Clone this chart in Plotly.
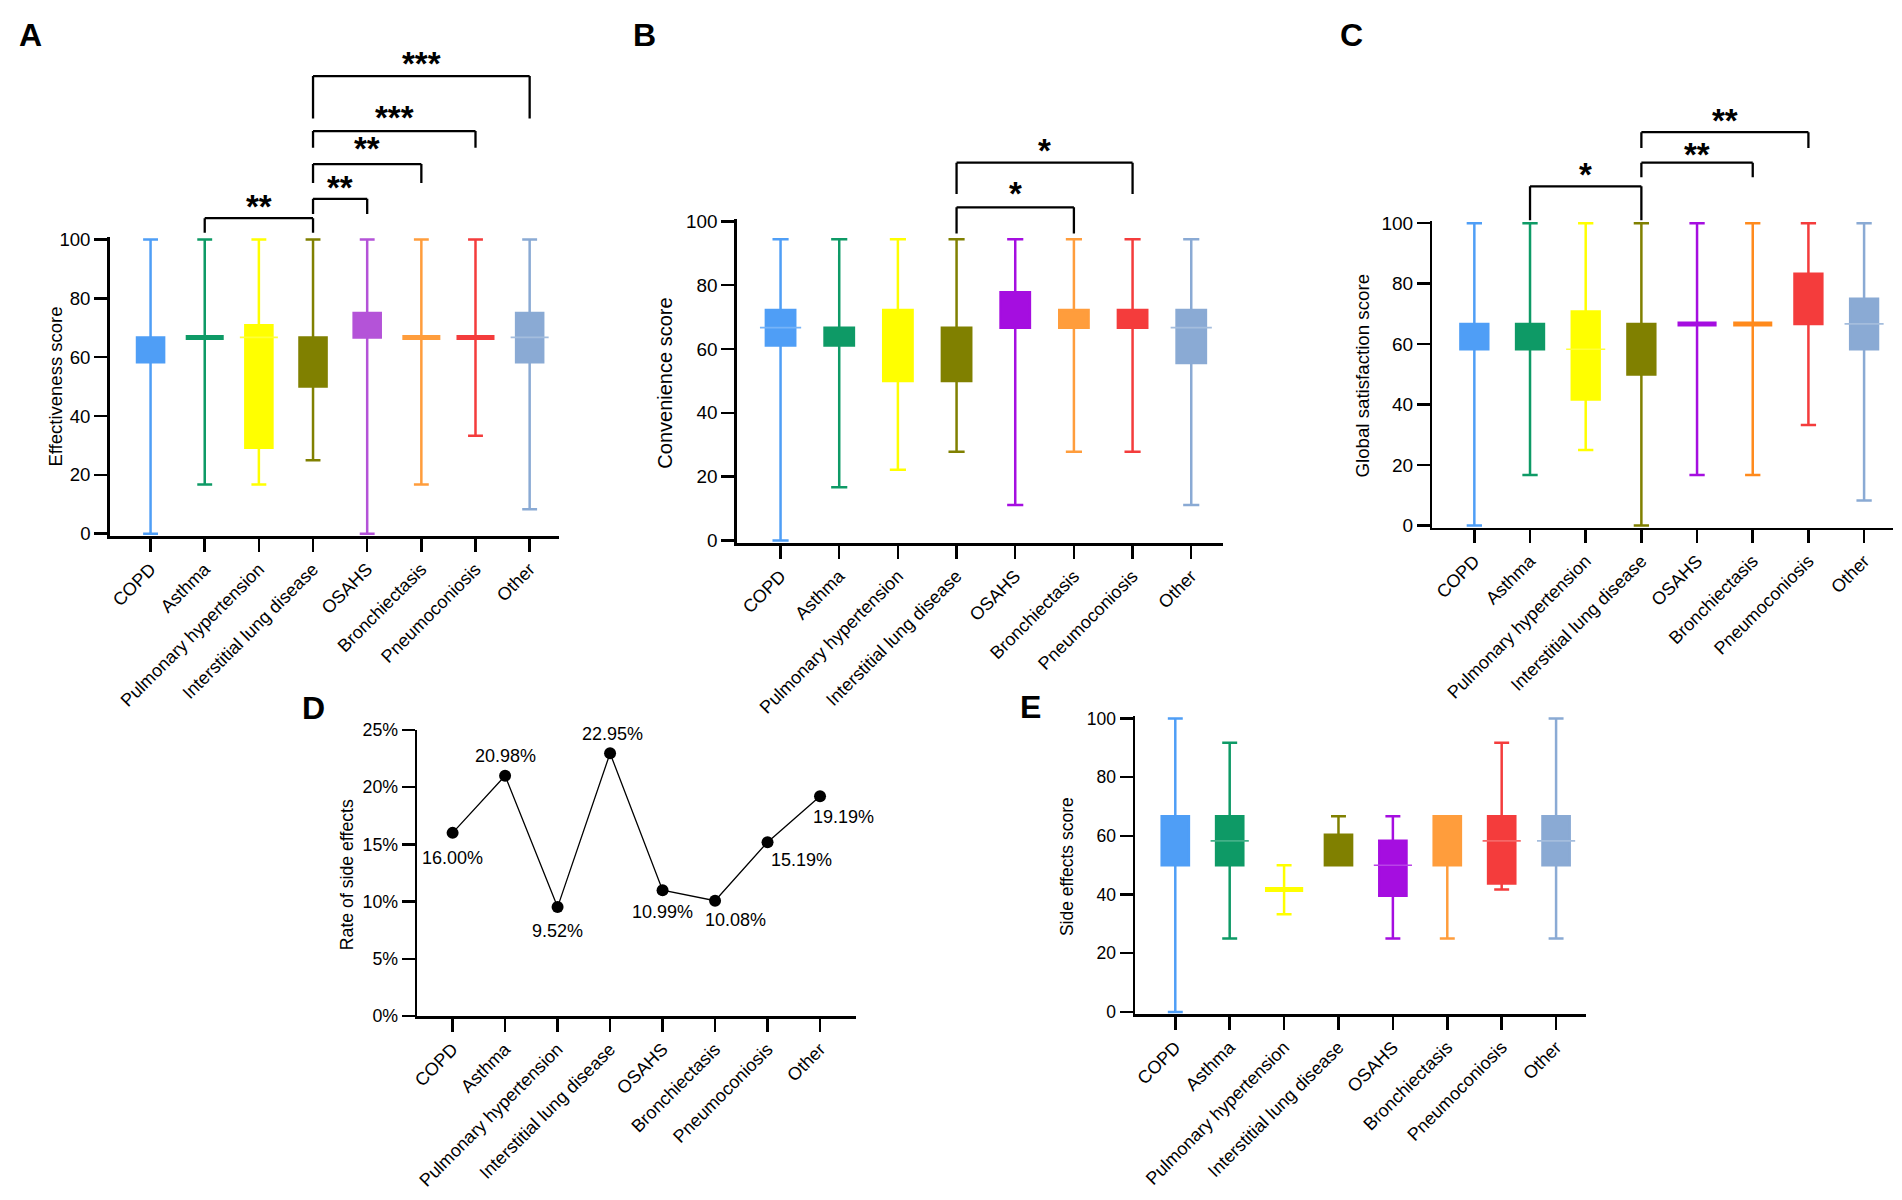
import plotly.graph_objects as go

# The page body keeps the browser's 8px margin, so the figure is sized to fit exactly
OFF = 8
WIN_W, WIN_H = 1902, 1200
W, H = WIN_W - 2 * OFF, WIN_H - 2 * OFF
FONT = "Liberation Sans, Arial, sans-serif"

categories = ["COPD", "Asthma", "Pulmonary hypertension", "Interstitial lung disease",
              "OSAHS", "Bronchiectasis", "Pneumoconiosis", "Other"]

# Panel A - Effectiveness score (min, Q1, median, Q3, max)
eff_min = [0, 16.7, 16.7, 25.0, 0, 16.7, 33.3, 8.3]
eff_q1 = [58.3, 66.7, 29.2, 50.0, 66.7, 66.7, 66.7, 58.3]
eff_med = [66.7, 66.7, 66.7, 66.7, 66.7, 66.7, 66.7, 66.7]
eff_q3 = [66.7, 66.7, 70.8, 66.7, 75.0, 66.7, 66.7, 75.0]
eff_max = [100, 100, 100, 100, 100, 100, 100, 100]

# Panel B - Convenience score
con_min = [0, 16.7, 22.2, 27.8, 11.1, 27.8, 27.8, 11.1]
con_q1 = [61.1, 61.1, 50.0, 50.0, 66.7, 66.7, 66.7, 55.6]
con_med = [66.7, 66.7, 50.0, 66.7, 66.7, 66.7, 66.7, 66.7]
con_q3 = [72.2, 66.7, 72.2, 66.7, 77.8, 72.2, 72.2, 72.2]
con_max = [94.4, 94.4, 94.4, 94.4, 94.4, 94.4, 94.4, 94.4]

# Panel C - Global satisfaction score
glo_min = [0, 16.7, 25.0, 0, 16.7, 16.7, 33.3, 8.3]
glo_q1 = [58.3, 58.3, 41.7, 50.0, 66.7, 66.7, 66.7, 58.3]
glo_med = [66.7, 66.7, 58.3, 66.7, 66.7, 66.7, 66.7, 66.7]
glo_q3 = [66.7, 66.7, 70.8, 66.7, 66.7, 66.7, 83.3, 75.0]
glo_max = [100, 100, 100, 100, 100, 100, 100, 100]

# Panel D - Rate of side effects (%)
side_rate = [16.00, 20.98, 9.52, 22.95, 10.99, 10.08, 15.19, 19.19]

# Panel E - Side effects score
sid_min = [0, 25.0, 33.3, 50.0, 25.0, 25.0, 41.7, 25.0]
sid_q1 = [50.0, 50.0, 41.7, 50.0, 39.6, 50.0, 43.8, 50.0]
sid_med = [66.7, 58.3, 41.7, 50.0, 50.0, 66.7, 58.3, 58.3]
sid_q3 = [66.7, 66.7, 41.7, 60.4, 58.3, 66.7, 66.7, 66.7]
sid_max = [100, 91.7, 50.0, 66.7, 66.7, 66.7, 91.7, 100]

# significance comparisons: (group i, group j, label)
sig_A = [(1, 3, "**"), (3, 4, "**"), (3, 5, "**"), (3, 6, "***"), (3, 7, "***")]
sig_B = [(3, 5, "*"), (3, 6, "*")]
sig_C = [(1, 3, "*"), (3, 5, "**"), (3, 6, "**")]

# ---------------- styling ----------------
colors = ["#4f9ef6", "#0e9a66", "#ffff00", "#808000", "#a50ee0", "#ff9d3c", "#f43c3c", "#8aaad4"]
colors_A = ["#4f9ef6", "#0e9a66", "#ffff00", "#808000", "#b453d8", "#ff9d3c", "#f43c3c", "#8aaad4"]
colors_C = ["#4f9ef6", "#0e9a66", "#ffff00", "#808000", "#a50ee0", "#ff8a1c", "#f43c3c", "#8aaad4"]

# bracket geometry (y in data units: top of bracket, bottom of legs, star position)
brk_A = [(107.2, 102.3, 113.5), (113.8, 108.6, 119.9), (125.6, 119.2, 133.4),
         (136.8, 131.1, 143.8), (155.5, 141.1, 162.1)]
brk_B = [(104.4, 96.2, 110.8), (118.4, 108.6, 124.5)]
brk_C = [(112.2, 101.0, 118.5), (120.0, 115.2, 124.9), (130.1, 124.9, 136.4)]

# D label offsets (px)
d_off = [(0, -25), (0, 20), (0, -24), (2, 19), (0, -22), (20, -19), (34, -18), (23, -21)]


def px_x(X):
    return (X - OFF) / W


def px_y(Y):
    return 1 - (Y - OFF) / H


def xdom(axis_px, end_px, first_px, last_px):
    sp = (last_px - first_px) / 7.0
    rng = [-(first_px - axis_px) / sp, 7 + (end_px - last_px) / sp]
    return [px_x(axis_px), px_x(end_px)], rng


def ydom(px_lo, px_hi, lo, hi, r0, r1):
    s = (px_lo - px_hi) / (hi - lo)
    b = px_lo + (lo - r0) * s
    t = px_hi - (r1 - hi) * s
    return [px_y(b), px_y(t)]


def tint(hexcol, f=0.22):
    r, g, b = int(hexcol[1:3], 16), int(hexcol[3:5], 16), int(hexcol[5:7], 16)
    return "rgb(%d,%d,%d)" % tuple(round(c + (255 - c) * f) for c in (r, g, b))


axis_common = dict(showline=True, linecolor="black", linewidth=2.5, ticks="outside",
                   ticklen=13, tickwidth=2.5, tickcolor="black", showgrid=False,
                   zeroline=False, fixedrange=True)

panels = {
    # name: (axis suffix, axis_px, end_px, first_px, last_px, y0_px, ytop_px, ytop_val, pad, tickfont)
    "A": ("", 104, 555, 145, 525.3, 532.6, 233.2, 100, 0.8, 18.6),
    "B": ("2", 733, 1221, 777, 1189, 539.5, 214.9, 100, 0.8, 18.9),
    "C": ("3", 1431, 1893, 1473, 1864, 524.3, 216.7, 100, 0.8, 19),
    "D": ("4", 412.5, 853, 448, 816.6, 1023.3, 732, 25, 0.0, 17.8),
    "E": ("5", 1132.6, 1585, 1173, 1555, 1019, 720.5, 100, 0.8, 17.5),
}

fig = go.Figure()
layout = dict(width=W, height=H, margin=dict(l=0, r=0, t=0, b=0),
              paper_bgcolor="white", plot_bgcolor="white", boxmode="overlay",
              showlegend=False, font=dict(family=FONT, color="black"))
yranges = {}
boxpx = {}
for name, (sfx, ax, ex, fx, lx, y0p, ytp, ytv, pad, tfs) in panels.items():
    xd, xr = xdom(ax, ex, fx, lx)
    boxpx[name] = 0.5 * (lx - fx) / 7.0
    r0, r1 = -pad, ytv + pad
    yd = ydom(y0p, ytp, 0, ytv, r0, r1)
    yranges[name] = (r0, r1)
    layout["xaxis" + sfx] = dict(axis_common, domain=xd, range=xr, anchor="y" + sfx,
                                 tickmode="array", tickvals=list(range(8)),
                                 ticktext=categories, tickangle=-45,
                                 tickfont=dict(size=18, color="black", family=FONT))
    if name == "D":
        yt = dict(tickvals=[0, 5, 10, 15, 20, 25],
                  ticktext=["0%", "5%", "10%", "15%", "20%", "25%"])
    else:
        yt = dict(tickvals=[0, 20, 40, 60, 80, 100])
    layout["yaxis" + sfx] = dict(axis_common, domain=yd, range=[r0, r1], anchor="x" + sfx,
                                 tickmode="array", tickfont=dict(size=tfs, color="black", family=FONT),
                                 **yt)


def add_boxes(name, sfx, mins, q1s, meds, q3s, maxs, cols):
    for i in range(8):
        fig.add_trace(go.Box(
            x=[i], q1=[q1s[i]], median=[meds[i]], q3=[q3s[i]],
            lowerfence=[mins[i]], upperfence=[maxs[i]],
            width=0.5, whiskerwidth=0.55, fillcolor=cols[i],
            line=dict(color=cols[i], width=2.5), boxpoints=False,
            xaxis="x" + sfx, yaxis="y" + sfx, hoverinfo="skip"))
    # collapsed boxes (Q1 == Q3) are drawn as a thick bar
    idx = [i for i in range(8) if q1s[i] == q3s[i]]
    if idx:
        fig.add_trace(go.Scatter(
            x=idx, y=[q1s[i] for i in idx], mode="markers",
            marker=dict(symbol="line-ew", size=boxpx[name],
                        line=dict(width=5, color=[cols[i] for i in idx])),
            xaxis="x" + sfx, yaxis="y" + sfx, hoverinfo="skip"))
    # faint median line inside boxes
    idm = [i for i in range(8) if q1s[i] < meds[i] < q3s[i]]
    if idm:
        fig.add_trace(go.Scatter(
            x=idm, y=[meds[i] for i in idm], mode="markers",
            marker=dict(symbol="line-ew", size=boxpx[name],
                        line=dict(width=1.6, color=[tint(cols[i]) for i in idm])),
            xaxis="x" + sfx, yaxis="y" + sfx, hoverinfo="skip"))


add_boxes("A", "", eff_min, eff_q1, eff_med, eff_q3, eff_max, colors_A)
add_boxes("B", "2", con_min, con_q1, con_med, con_q3, con_max, colors)
add_boxes("C", "3", glo_min, glo_q1, glo_med, glo_q3, glo_max, colors_C)
add_boxes("E", "5", sid_min, sid_q1, sid_med, sid_q3, sid_max, colors)

fig.add_trace(go.Scatter(x=list(range(8)), y=side_rate, mode="lines+markers",
                         line=dict(color="black", width=1.3),
                         marker=dict(color="black", size=12),
                         xaxis="x4", yaxis="y4", hoverinfo="skip"))

shapes = []
annotations = []


def add_sig(name, sfx, sigs, geom):
    r0, r1 = yranges[name]
    dm = lambda v: (v - r0) / (r1 - r0)
    xr = "x" + sfx
    yr = "y" + sfx + " domain"
    for (i, j, lab), (top, bot, txt) in zip(sigs, geom):
        ln = dict(color="black", width=2.3)
        shapes.append(dict(type="line", xref=xr, yref=yr, x0=i, x1=i, y0=dm(bot), y1=dm(top), line=ln))
        shapes.append(dict(type="line", xref=xr, yref=yr, x0=i, x1=j, y0=dm(top), y1=dm(top), line=ln))
        shapes.append(dict(type="line", xref=xr, yref=yr, x0=j, x1=j, y0=dm(bot), y1=dm(top), line=ln))
        annotations.append(dict(xref=xr, yref=yr, x=(i + j) / 2, y=dm(txt), text="<b>" + lab + "</b>",
                                showarrow=False, yanchor="middle", yshift=-7,
                                font=dict(size=33, family=FONT, color="black")))


add_sig("A", "", sig_A, brk_A)
add_sig("B", "2", sig_B, brk_B)
add_sig("C", "3", sig_C, brk_C)

for i, v in enumerate(side_rate):
    dx, dy = d_off[i]
    annotations.append(dict(xref="x4", yref="y4", x=i, y=v, text=f"{v:.2f}%",
                            showarrow=False, xshift=dx, yshift=dy,
                            font=dict(size=18, family=FONT, color="black")))

# axis titles (text, center x px, center y px, font size)
titles = [("Effectiveness score", 50, 383, 18.5), ("Convenience score", 661, 379, 20),
          ("Global satisfaction score", 1361, 372, 18.7), ("Rate of side effects", 342, 879, 17.7),
          ("Side effects score", 1065, 871, 17.5)]
for t, px, py, fs in titles:
    annotations.append(dict(xref="paper", yref="paper", x=px_x(px), y=px_y(py), text=t,
                            textangle=-90, showarrow=False, xanchor="center", yanchor="middle",
                            font=dict(size=fs, family=FONT, color="black")))

# panel letters
letters = [("A", 25, 25), ("B", 641, 25), ("C", 1350, 25), ("D", 308, 710), ("E", 1028, 709)]
for t, px, py in letters:
    annotations.append(dict(xref="paper", yref="paper", x=px_x(px), y=px_y(py), text="<b>" + t + "</b>",
                            showarrow=False, xanchor="center", yanchor="middle",
                            font=dict(size=32, family=FONT, color="black")))

layout["shapes"] = shapes
layout["annotations"] = annotations
fig.update_layout(**layout)

fig.write_html("out.html", config={"displayModeBar": False, "staticPlot": True})
